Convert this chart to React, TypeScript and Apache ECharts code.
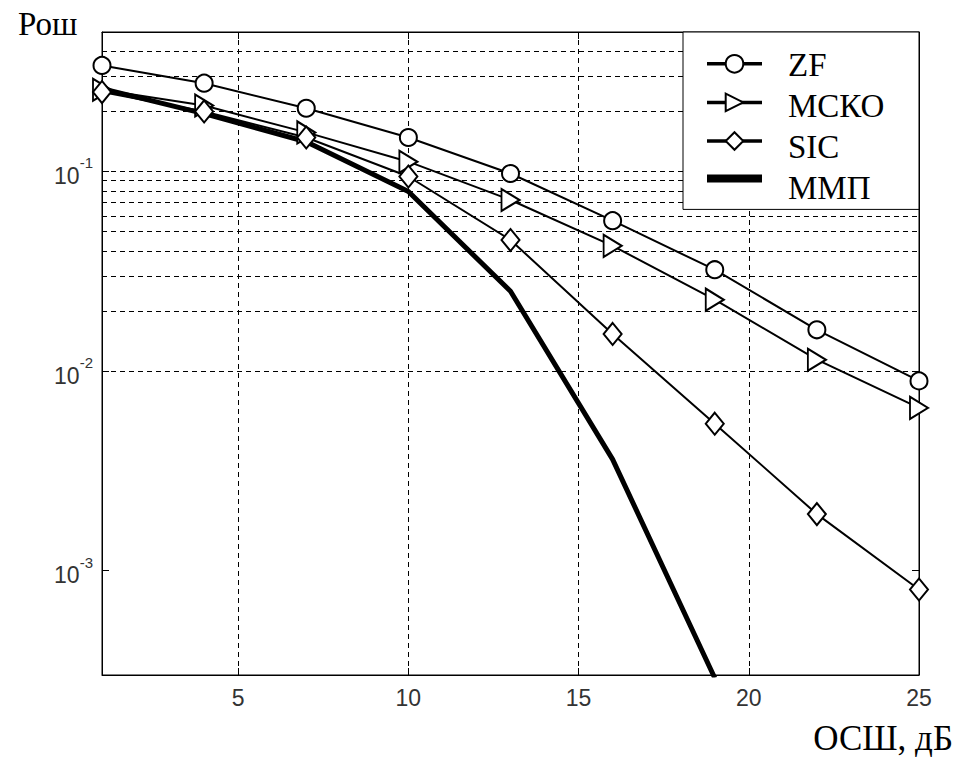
import React, { useEffect, useRef } from 'react';
import * as echarts from 'echarts';

// SNR, dB
const snr = [1, 4, 7, 10, 13, 16, 19, 22, 25];
const snrML = [1, 4, 7, 10, 13, 16, 19];
// Error probability per detector
const zf = [0.34, 0.277, 0.2075, 0.148, 0.0977, 0.0567, 0.0322, 0.0161, 0.00893];
const mmse = [0.257, 0.214, 0.157, 0.112, 0.072, 0.0424, 0.0228, 0.0114, 0.00654];
const sic = [0.25, 0.2, 0.148, 0.0944, 0.0454, 0.01535, 0.00545, 0.00192, 0.000804];
const ml = [0.26, 0.195, 0.141, 0.0794, 0.0251, 0.00361, 0.00029];

const seriesNames = ['ZF', 'МСКО', 'SIC', 'ММП'];
const xTicks = [5, 10, 15, 20, 25];
const xGrid = [5, 10, 15, 20];
const yMin = 0.0003;
const yMax = 0.5;
const decades = [0.0001, 0.001, 0.01, 0.1];
const mantissas = [1, 2, 3, 4, 5, 6, 7, 8, 9];

const yGrid: number[] = [];
decades.forEach((d) => mantissas.forEach((m) => {
  const v = m * d;
  if (v > yMin * 1.001 && v < yMax * 0.999) yGrid.push(v);
}));

const pair = (xs: number[], ys: number[]) => xs.map((x, i) => [x, ys[i]]);

const SERIF = 'Liberation Serif';
const SANS = 'Liberation Sans';

// legend layout
const LEG_TOP = 32;
const LEG_PAD_V = 22;
const LEG_ITEM_H = 22;
const LEG_GAP = 19;
const LEG_TEXT_X = 788;

const App: React.FC = () => {
  const ref = useRef<HTMLDivElement>(null);
  useEffect(() => {
    if (!ref.current) return;
    const chart = echarts.init(ref.current, undefined, { renderer: 'svg' });
    const lineCommon = {
      type: 'line' as const,
      z: 3,
      itemStyle: { color: '#fff', borderColor: '#000', borderWidth: 2 },
      lineStyle: { color: '#000', width: 2 },
      clip: true,
    };
    const gridStyle = { type: [5, 4], color: '#000', width: 1 };
    const legendLabels = seriesNames.map((name, i) => ({
      type: 'text',
      z: 20,
      silent: true,
      x: LEG_TEXT_X,
      y: LEG_TOP + LEG_PAD_V + LEG_ITEM_H / 2 + i * (LEG_ITEM_H + LEG_GAP),
      style: {
        text: name,
        fill: '#000',
        font: `33px "${SERIF}"`,
        verticalAlign: 'middle',
        align: 'left',
      },
    }));
    chart.setOption({
      animation: false,
      backgroundColor: '#fff',
      title: [
        { text: 'Рош', left: 13, top: 2, textStyle: { fontFamily: SERIF, fontSize: 33, fontWeight: 'normal', color: '#000' } },
        { text: 'ОСШ, дБ', right: 4, top: 716, textStyle: { fontFamily: SERIF, fontSize: 35, fontWeight: 'normal', color: '#000' } },
      ],
      grid: { left: 102, top: 32, right: 43, bottom: 82, show: true, borderColor: '#000', borderWidth: 1, backgroundColor: '#fff' },
      legend: {
        data: [
          { name: seriesNames[0], lineStyle: { width: 3.5 } },
          { name: seriesNames[1], lineStyle: { width: 3.5 } },
          { name: seriesNames[2], lineStyle: { width: 3.5 } },
          { name: seriesNames[3], lineStyle: { width: 8 }, itemStyle: { opacity: 0 } },
        ],
        formatter: () => '',
        orient: 'vertical',
        right: 43,
        top: LEG_TOP,
        z: 10,
        backgroundColor: '#fff',
        borderColor: '#000',
        borderWidth: 1,
        borderRadius: 0,
        padding: [LEG_PAD_V, 152, LEG_PAD_V, 20],
        itemWidth: 55,
        itemHeight: LEG_ITEM_H,
        itemGap: LEG_GAP,
        textStyle: { fontSize: 12, lineHeight: 12 },
      },
      graphic: legendLabels,
      xAxis: [
        {
          type: 'value', min: 1, max: 25,
          axisLine: { show: true, lineStyle: { color: '#000', width: 1 } },
          axisTick: { show: true, inside: true, length: 7, customValues: xTicks, lineStyle: { color: '#000' } },
          axisLabel: { customValues: xTicks, margin: 11, fontFamily: SANS, fontSize: 23, color: '#333' },
          splitLine: { show: false },
        },
        {
          type: 'value', min: 1, max: 25, position: 'top',
          axisLine: { show: true, lineStyle: { color: '#000', width: 1 } },
          axisTick: { show: true, inside: true, length: 7, customValues: xTicks, lineStyle: { color: '#000' } },
          axisLabel: { show: false },
          splitLine: { show: false },
        },
      ],
      yAxis: [
        {
          type: 'log', logBase: 10, min: yMin, max: yMax,
          axisLine: { show: true, lineStyle: { color: '#000', width: 1 } },
          axisTick: { show: true, inside: true, length: 7, lineStyle: { color: '#000' } },
          axisLabel: {
            margin: 9,
            formatter: (v: number) => {
              const e = Math.log10(v);
              if (Math.abs(e - Math.round(e)) > 1e-6) return '';
              return `{b|10}{s|${Math.round(e)}}`;
            },
            rich: {
              b: { fontFamily: SANS, fontSize: 23, color: '#333', lineHeight: 32, verticalAlign: 'bottom' },
              s: { fontFamily: SANS, fontSize: 15, color: '#333', lineHeight: 15, verticalAlign: 'top' },
            },
          },
          splitLine: { show: false },
        },
        {
          type: 'log', logBase: 10, min: yMin, max: yMax, position: 'right',
          axisLine: { show: true, lineStyle: { color: '#000', width: 1 } },
          axisTick: { show: true, inside: true, length: 7, lineStyle: { color: '#000' } },
          axisLabel: { show: false },
          splitLine: { show: false },
        },
      ],
      series: [
        {
          name: 'grid', type: 'line', data: [], z: 1, silent: true,
          markLine: {
            z: 1,
            silent: true, symbol: ['none', 'none'], label: { show: false },
            lineStyle: gridStyle,
            emphasis: { disabled: true },
            data: [
              ...xGrid.map((x) => ({ xAxis: x })),
              ...yGrid.map((y) => ({ yAxis: y })),
            ],
          },
        },
        {
          ...lineCommon, name: seriesNames[0], data: pair(snr, zf),
          symbol: 'circle', symbolSize: 17,
        },
        {
          ...lineCommon, name: seriesNames[1], data: pair(snr, mmse),
          symbol: 'triangle', symbolSize: [22, 18], symbolRotate: -90,
        },
        {
          ...lineCommon, name: seriesNames[2], data: pair(snr, sic),
          symbol: 'diamond', symbolSize: [18, 22],
        },
        {
          ...lineCommon, name: seriesNames[3], data: pair(snrML, ml),
          symbol: 'none', lineStyle: { color: '#000', width: 5 }, itemStyle: { color: '#000' },
        },
      ],
    });
    return () => chart.dispose();
  }, []);
  return <div ref={ref} style={{ width: 962, height: 757, position: 'absolute', left: 0, top: 0 }} />;
};

export default App;
